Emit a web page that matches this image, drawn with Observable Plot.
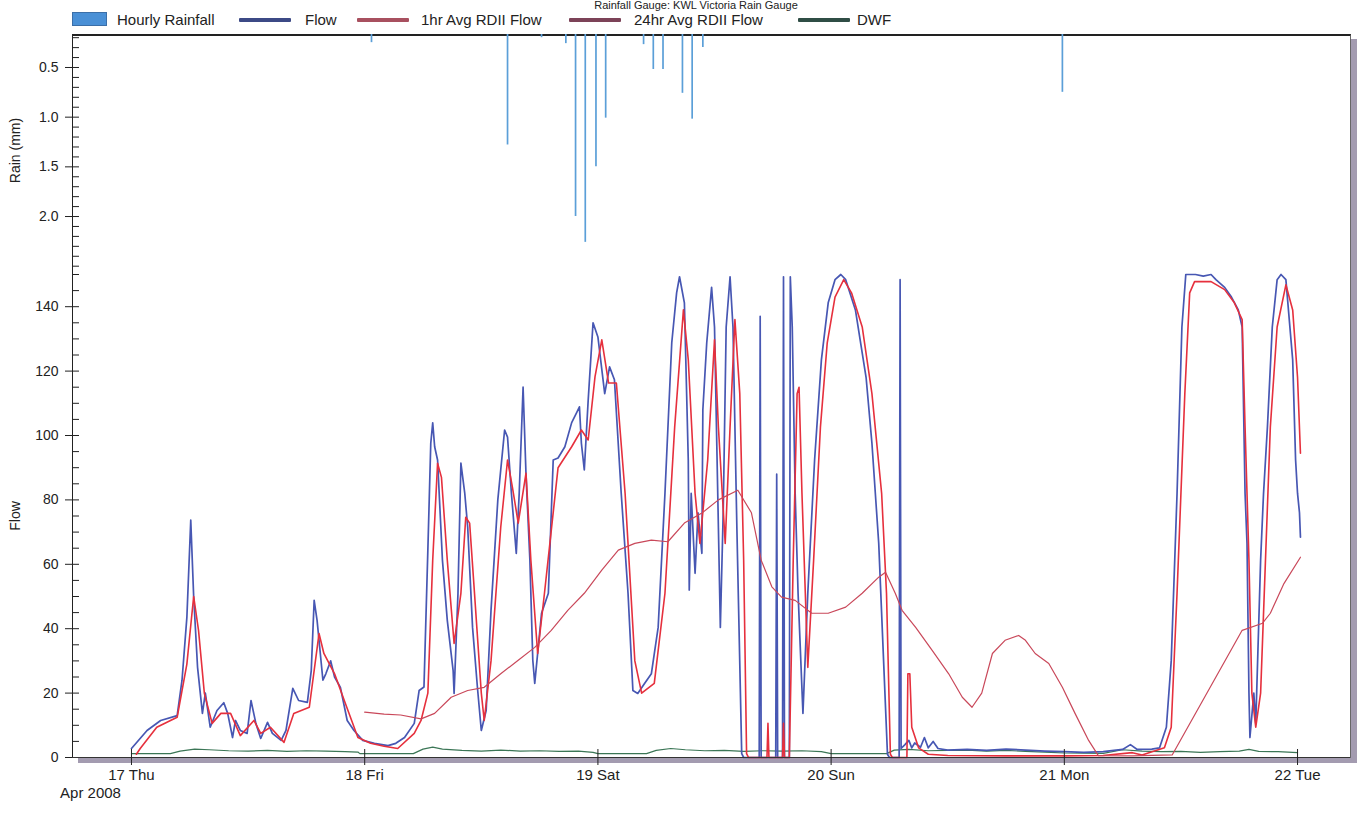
<!DOCTYPE html>
<html><head><meta charset="utf-8">
<script src="https://cdn.jsdelivr.net/npm/d3@7"></script>
<script src="https://cdn.jsdelivr.net/npm/@observablehq/plot@0.6"></script>
<style>
body{margin:0;background:#fff;font-family:"Liberation Sans",Arial,sans-serif;color:#222;}
#wrap{position:relative;width:1364px;height:815px;overflow:hidden;background:#fff;}
#wrap svg{position:absolute;left:0;top:0;}
#frame{position:absolute;left:72px;top:34px;width:1277px;height:722px;border-top:2px solid #222;border-left:1px solid #222;border-right:1px solid #666;box-shadow:6px 5px 0 #a39bb0;}
#title{position:absolute;left:0;width:1392px;top:0px;text-align:center;font-size:11px;line-height:11px;}
.lg{position:absolute;top:12px;font-size:15px;line-height:15px;white-space:nowrap;}
.sw{position:absolute;}
</style></head>
<body><div id="wrap">
<div id="frame"></div>
<div id="title">Rainfall Gauge: KWL Victoria Rain Gauge</div>
<div id="legend"></div>
</div>
<script>
// ---- data (hours after 17 Apr 2008 00:00) ----
const rainHours = [24.7, 38.7, 42.2, 44.7, 45.7, 46.7, 47.8, 48.8, 52.7, 53.7, 54.7, 56.7, 57.7, 58.8, 95.8];
const rainValues = [0.25, 1.28, 0.2, 0.26, 2.0, 2.26, 1.5, 1.01, 0.27, 0.52, 0.52, 0.76, 1.02, 0.3, 0.75];

const flowHours = [0,1.6,3,4.7,5.2,5.7,6.1,6.4,6.8,7.3,7.6,8.1,8.8,9.5,9.9,10.4,10.7,11.2,11.9,12.3,12.8,13.3,14,14.5,15.4,15.9,16.6,17.2,18.1,18.5,18.8,19.1,19.7,20,20.5,20.9,21.5,22.2,22.9,23.8,25,26.4,27.2,28.1,29.1,29.6,30.1,30.5,30.8,31,31.2,31.5,32,32.5,33.1,33.2,33.6,33.9,34.3,34.6,35.1,35.6,36,36.5,37,37.7,38.4,38.7,39.1,39.6,39.9,40.3,40.6,41,41.3,41.5,42.2,42.9,43.4,43.9,44.6,45.3,45.8,46.1,46.3,46.6,47,47.5,48,48.7,49.2,49.7,50.4,51.1,51.6,52.1,52.8,53.5,54.2,54.9,55.6,56.1,56.4,56.9,57.3,57.4,57.6,58,58.3,58.7,58.8,59.2,59.7,60,60.4,60.6,60.9,61.2,61.6,61.9,62.3,62.8,63,64.6,64.7,64.8,66.3,66.4,66.5,67,67.1,67.2,67.7,67.8,68,68.3,68.6,69.1,69.6,70.3,71,71.7,72.4,73,73.5,74.5,75.6,76.2,76.9,77.4,77.8,78,79,79.1,79.2,79.6,80,80.3,80.6,81.2,81.6,82,82.5,83,84,86,88,90,92,94,96,98,100,102,102.8,103.5,105,105.8,106.5,107,107.6,108.1,108.5,109.5,110.3,111.1,111.6,112.5,113.2,113.9,114.3,114.6,114.8,115,115.1,115.5,115.7,116.2,116.5,116.9,117.4,117.9,118.3,118.8,119.5,119.8,120,120.2,120.3];
const flowValues = [2.8,8.4,11.5,13,24,43.5,73.7,50,28,13.7,20,9.4,14.6,17,13.7,6.2,11.5,8.4,7.5,17.7,10.6,5.9,10.9,7.5,5.3,8.4,21.5,17.7,17.1,27,48.8,42.6,24,26,30,25,21.8,11.5,8.4,5.3,4.4,3.7,4.4,6.2,10.6,20.8,21.9,64.4,97.6,103.9,96.5,92.4,61.3,42.6,27,19.9,51,91.4,82,71.5,40.4,21.8,8.4,14.6,45.7,80,101.7,99.5,82,63.4,82,115,88,61.3,30.2,23,44.8,51,92.4,93,96.5,104,107,108.9,97.6,89.3,111,135,130.6,113,121.3,117.3,82,51,20.8,19.9,23,26,40.4,82,128.8,144.3,149.3,141.2,92.4,52,82,57.2,76,63.4,108,128.8,146,133.7,71.5,40.4,76.8,133.7,149.3,133.7,71.5,1.2,0,0,137,0,0,88,0,0,149.3,0,0,149.3,133.7,82,51,13.7,51,92.4,123.5,141.2,148.4,150,148.4,139,118,97.6,66.5,30,1,0,0,148.4,2.8,4,5.3,3,4.5,3.2,6.2,3,5,2.8,2.3,2.5,2.2,2.6,2.3,2,1.8,1.6,1.8,2.5,4,2.5,2.6,3,9.4,30,82,133.7,150,150,149.5,150,148.4,146,143,139,133.7,82,66.5,20,6.2,20,10.6,61.3,82,102.6,133.7,148.4,150,148.4,123.5,92.4,82,76,68.4];

const avg1Hours = [0.5,0.9,2.6,4.7,5.7,6.4,6.9,7.5,8.3,9.2,10.2,11.2,12.6,13.3,14.3,15.7,16.7,18.3,19.3,19.8,20.9,21.9,23.3,24.6,26,27.4,29.1,29.8,30.5,31,31.5,31.9,32.5,33.2,33.9,34.4,34.8,35.3,36,36.3,37,38,38.7,39.2,39.8,40.6,41.1,41.8,42.5,43.9,45.3,46.3,47,47.7,48.4,49.1,49.9,50.8,51.8,52.5,53.8,54.9,55.9,56.8,57.3,58,58.5,59.3,60,60.4,61.1,61.6,62.1,62.6,63,63.3,63.5,65.4,65.5,65.6,67,67.1,67.2,67.7,68.1,68.5,68.7,69,69.6,70.2,70.9,71.6,72.4,73.3,74.1,75.2,76.2,77.2,77.7,78.1,78.3,79.8,79.9,80.1,80.3,81,82,84,90,96,100,103,104,106.3,107,107.6,108.4,108.9,109.4,111.1,112.5,113.5,114.3,114.6,115,115.3,115.7,116.2,116.7,117.2,117.9,118.8,119.5,120,120.3];
const avg1Values = [1,2.8,9.4,12.5,29,50,39.5,19.9,10.6,13.7,13.7,6.8,11.5,7.5,9.4,4.7,13.7,15.6,38.5,32.3,26,17.7,6.2,4.4,3.5,2.8,7.5,11.5,20,61.3,91.4,87,61.3,35.4,51,74.6,72.8,51,20,11.5,30,71.5,92.4,84,72.8,88.3,61.3,32.3,51,90,96.5,101.7,98.6,118.2,129.7,116.3,116.3,82,30,20,23,51,102.6,139,123.5,82,66.5,92.4,129.7,102.6,66.5,102.6,136,113,61.3,1.2,0,0,10.6,0,0,10.6,0,0,61.3,113,115,82,28,61.3,102.6,128.8,143,148.4,144.3,133.7,113,82,51,1,0,0,26,26,9.4,3,1,0.6,0.5,0.5,0.6,1.5,0.8,3,9.4,51,113,144.3,147.8,147.8,145.3,141.2,136,102.6,61.3,20,9.4,20,61.3,102.6,133.7,146.8,139,118,94.5];

const avg24Hours = [24,26,27.7,29.8,31.2,32.9,34.6,36.3,38,39.8,41.5,43.2,44.9,46.6,48.4,50.1,51.8,53.5,55.2,56.9,58.7,60.4,62.4,63.8,64.8,65.9,66.9,68.3,70,71.7,73.5,75.2,76.9,77.6,78.6,79.3,80.7,82.4,84.1,85.5,86.5,87.5,88.6,89.9,91.3,92,93,94.4,95.8,97.1,98.5,99.5,103,107.1,114.3,116.4,117.2,118.6,120.3];
const avg24Values = [14.1,13.5,13.2,12,13.7,18.7,20.8,21.8,26,30.2,34.2,39.5,45.7,51,58.2,64.4,66.5,67.5,67,72.8,75.9,80,83,76,61.3,53,49.8,48.8,44.8,44.8,46.7,51,56,57.5,51,45.7,40.4,33.3,26,18.7,15.6,20,32.3,36.4,37.9,36.4,32.3,29.2,21.8,13.7,5.3,0.6,0.5,0.8,39.5,41.7,44.8,54,62.2];

const dwfHours = [0,4,5,6.5,8,10,12,14,16,18,20,22,23.3,23.5,29,30,31,32,34,36,38,40,42,44,46,47.5,48,53,54,55.5,57,59,61,63,65,67,69,71,72,77.7,78.5,80,82,84,86,88,90,92,94,96,100,102,104,106,108,110,112,114,115,116,118,120];
const dwfValues = [1.2,1.2,2,2.6,2.4,2.1,2,2.2,1.9,2.1,2,1.8,1.7,1.2,1.2,2.6,3.2,2.6,2.2,2,2.3,2,2.1,1.9,2,1.6,1.2,1.2,2.2,2.8,2.4,2.1,2.2,1.9,2.1,2,2.1,1.8,1.2,1.2,2.3,2.5,2.1,2.2,2.3,2,2.2,1.9,1.7,1.4,1.3,2.4,2,1.8,1.9,1.6,1.8,2,2.5,1.9,1.8,1.5];

const dayHours = [0, 24, 48, 72, 96, 120];
const rainTicks = [0.5, 1.0, 1.5, 2.0];
const rainMinorTicks = [0.2,0.3,0.4,0.5,0.6,0.7,0.8,0.9,1.0,1.1,1.2,1.3,1.4,1.5,1.6,1.7,1.8,1.9,2.0,2.1,2.2,2.3,2.4,2.5];
const flowTicks = [0, 20, 40, 60, 80, 100, 120, 140];
const flowMinorTicks = [5,10,15,20,25,30,35,40,45,50,55,60,65,70,75,80,85,90,95,100,105,110,115,120,125,130,135,140,145,150];
const dayNames = ["Sun","Mon","Tue","Wed","Thu","Fri","Sat"];

const seriesNames = ["Hourly Rainfall", "Flow", "1hr Avg RDII Flow", "24hr Avg RDII Flow", "DWF"];

// ---- build ----
const base = Date.UTC(2008, 3, 17);
const toDate = h => new Date(base + h * 3600e3);
const pairs = (hs, vs) => hs.map((h, i) => ({t: toDate(h), v: vs[i]}));
const rain = pairs(rainHours, rainValues);
const flow = pairs(flowHours, flowValues);
const avg1 = pairs(avg1Hours, avg1Values);
const avg24 = pairs(avg24Hours, avg24Values);
const dwf = pairs(dwfHours, dwfValues);
const days = dayHours.map(toDate);
const xDomain = [toDate(-6.07), toDate(125.45)];
const dayFmt = d => `${d.getUTCDate()} ${dayNames[d.getUTCDay()]}`;

const C = {rain: "#5b9fd8", flow: "#4757b3", avg1: "#e6303d", avg24: "#c9485a", dwf: "#3b7656"};
const font = '"Liberation Sans", Arial, sans-serif';
const W = 1364;

const rainPlot = Plot.plot({
  width: W, height: 270, marginLeft: 72, marginRight: 14, marginTop: 34, marginBottom: 4,
  style: {background: "transparent", fontFamily: font, fontSize: "14px", color: "#222", overflow: "visible"},
  x: {type: "utc", domain: xDomain, axis: null},
  y: {domain: [0.168, 2.503], reverse: true, axis: null},
  marks: [
    Plot.ruleX(rain, {x: "t", y1: 0, y2: "v", stroke: C.rain, strokeWidth: 1.7, clip: true}),
    Plot.axisY({ticks: rainTicks, tickFormat: d3.format(".1f"), tickSize: 7, tickPadding: 7,
      label: "Rain (mm)", labelAnchor: "center", labelOffset: 62, labelArrow: "none", stroke: "#222"}),
    Plot.tickY(rainMinorTicks, {y: d => d, insetRight: W - 72 - 14 - 7, stroke: "#222"})
  ]
});

const flowPlot = Plot.plot({
  width: W, height: 815, marginLeft: 72, marginRight: 14, marginTop: 274, marginBottom: 58,
  style: {background: "transparent", fontFamily: font, fontSize: "14px", color: "#222", overflow: "visible"},
  x: {type: "utc", domain: xDomain, axis: null},
  y: {domain: [0, 150], axis: null},
  marks: [
    Plot.line(dwf, {x: "t", y: "v", stroke: C.dwf, strokeWidth: 1.2}),
    Plot.line(flow, {x: "t", y: "v", stroke: C.flow, strokeWidth: 1.7}),
    Plot.line(avg1, {x: "t", y: "v", stroke: C.avg1, strokeWidth: 1.6}),
    Plot.line(avg24, {x: "t", y: "v", stroke: C.avg24, strokeWidth: 1.2}),
    Plot.ruleY([0], {stroke: "#333", strokeWidth: 1.2}),
    Plot.axisY({ticks: flowTicks, tickSize: 7, tickPadding: 7, label: "Flow", labelAnchor: "center",
      labelOffset: 62, labelArrow: "none", stroke: "#222"}),
    Plot.tickY(flowMinorTicks, {y: d => d, insetRight: W - 72 - 14 - 7, stroke: "#222"}),
    Plot.axisX({ticks: days, tickFormat: dayFmt, tickSize: 8, tickPadding: 4, label: null, fontSize: 15, stroke: "#222"}),
    Plot.tickX(days, {x: d => d, insetTop: 483 - 8, stroke: "#222"}),
    Plot.text([days[0]], {x: d => d, frameAnchor: "bottom", dy: 40, dx: -41, text: () => "Apr 2008", fontSize: 15})
  ]
});

const wrap = document.getElementById("wrap");
wrap.appendChild(rainPlot);
wrap.appendChild(flowPlot);

// legend
const legend = document.getElementById("legend");
const legendSpec = [
  {name: seriesNames[0], type: "rect", color: "#4a90d6", sw: 72, tx: 117},
  {name: seriesNames[1], type: "line", color: "#3c4a86", sw: 239, tx: 305},
  {name: seriesNames[2], type: "line", color: "#a8505f", sw: 357, tx: 421},
  {name: seriesNames[3], type: "line", color: "#7c4358", sw: 569, tx: 634},
  {name: seriesNames[4], type: "line", color: "#2f4d45", sw: 798, tx: 857}
];
for (const s of legendSpec) {
  const sw = document.createElement("div");
  sw.className = "sw";
  if (s.type === "rect") {
    Object.assign(sw.style, {left: s.sw + "px", top: "12px", width: "35px", height: "14px", background: s.color, border: "1px solid #3b6fa8", boxSizing: "border-box"});
  } else {
    Object.assign(sw.style, {left: s.sw + "px", top: "18px", width: "52px", height: "4px", background: s.color, borderRadius: "1px"});
  }
  legend.appendChild(sw);
  const t = document.createElement("div");
  t.className = "lg";
  t.style.left = s.tx + "px";
  t.textContent = s.name;
  legend.appendChild(t);
}
</script>
</body></html>
